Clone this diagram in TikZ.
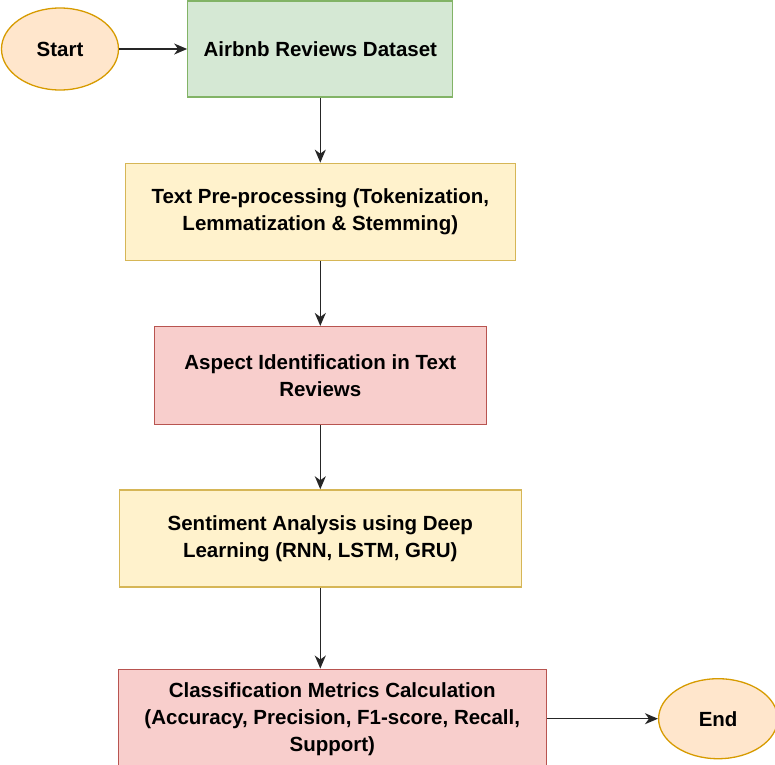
\documentclass[tikz,border=0pt]{standalone}
\usepackage{fontspec}
\setmainfont{Liberation Sans}
\usepackage{tikz}
\usetikzlibrary{positioning, shapes.geometric, arrows.meta}

\definecolor{termfill}{HTML}{FFE6CC}
\definecolor{termline}{HTML}{D79B00}
\definecolor{datafill}{HTML}{D5E8D4}
\definecolor{dataline}{HTML}{82B366}
\definecolor{procfill}{HTML}{FFF2CC}
\definecolor{procline}{HTML}{D6B656}
\definecolor{keyfill}{HTML}{F8CECC}
\definecolor{keyline}{HTML}{B85450}

\begin{document}
\begin{tikzpicture}[
    >={Stealth[length=13pt, width=11pt, inset=4pt]},
    x=1pt, y=1pt,
    font = \fontsize{20.5}{27}\selectfont\bfseries,
    %% ── node styles ──────────────────────────────────────────
    Tnode/.style = {ellipse, draw=termline, fill=termfill, line width=1.3pt,
                    minimum width=117pt, minimum height=82pt},
    Dbox/.style  = {draw=dataline, fill=datafill, line width=1.3pt, align=center,
                    minimum width=265pt, minimum height=96pt},
    Pbox/.style  = {draw=procline, fill=procfill, line width=1.3pt, align=center,
                    minimum height=97pt},
    Kbox/.style  = {draw=keyline, fill=keyfill, line width=1.3pt, align=center,
                    minimum height=98pt},
    arr/.style   = {->, line width=1.5pt, black!85}
]
\useasboundingbox (0,0) rectangle (775,-764);

%% ── Top row ──────────────────────────────────────────────────
\node[Tnode] (start) at (60,-49) {Start};
\node[Dbox, right=68pt of start] (data) {Airbnb Reviews Dataset};

%% ── Main column ──────────────────────────────────────────────
\node[Pbox, minimum width=390pt, below=65pt of data] (prep)
    {Text Pre-processing (Tokenization,\\Lemmatization \& Stemming)};
\node[Kbox, minimum width=332pt, below=65pt of prep] (aspect)
    {Aspect Identification in Text\\Reviews};
\node[Pbox, minimum width=402pt, below=64pt of aspect] (senti)
    {Sentiment Analysis using Deep\\Learning (RNN, LSTM, GRU)};
\node[Kbox, minimum width=428pt, minimum height=99pt,
      below=81pt of senti, xshift=12pt] (metrics)
    {Classification Metrics Calculation\\(Accuracy, Precision, F1-score, Recall,\\Support)};

%% ── Bottom row ───────────────────────────────────────────────
\node[Tnode, minimum width=119pt, minimum height=80pt,
      right=111pt of metrics] (end) {End};

%% ── Arrows ───────────────────────────────────────────────────
\draw[arr] (start)  -- (data);
\draw[arr] (data)   -- (prep);
\draw[arr] (prep)   -- (aspect);
\draw[arr] (aspect) -- (senti);
\draw[arr] (senti.south) -- (senti.south |- metrics.north);
\draw[arr] (metrics) -- (end);

\end{tikzpicture}
\end{document}
